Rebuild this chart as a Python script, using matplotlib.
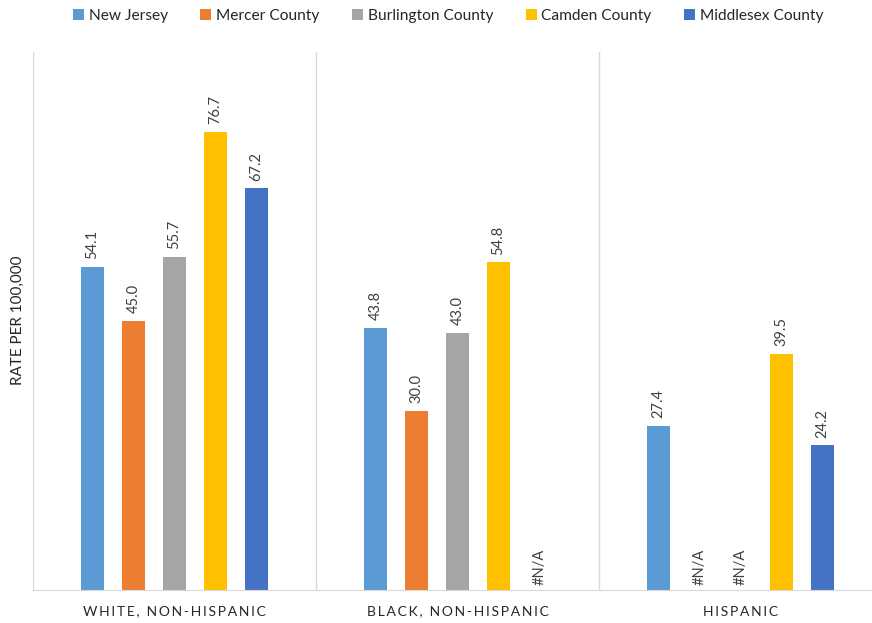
import numpy as np
import matplotlib.pyplot as plt

# Data
categories = ['WHITE, NON-HISPANIC', 'BLACK, NON-HISPANIC', 'HISPANIC']
series = ['New Jersey', 'Mercer County', 'Burlington County', 'Camden County', 'Middlesex County']
new_jersey = [54.1, 43.8, 27.4]
mercer = [45.0, 30.0, None]
burlington = [55.7, 43.0, None]
camden = [76.7, 54.8, 39.5]
middlesex = [67.2, None, 24.2]
values = [new_jersey, mercer, burlington, camden, middlesex]
colors = ['#5B9BD5', '#ED7D31', '#A5A5A5', '#FFC000', '#4472C4']

plt.rcParams['font.family'] = ['Lato', 'DejaVu Sans']

fig = plt.figure(figsize=(8.72, 6.23), dpi=100)
ax = fig.add_axes([33 / 872, 33 / 623, 838 / 872, 538 / 623])

x = np.arange(len(categories))
step = 0.145
width = 0.08
for i, (name, vals, col) in enumerate(zip(series, values, colors)):
    xs = x + (i - 2) * step
    hs = [v if v is not None else 0 for v in vals]
    ax.bar(xs, hs, width, color=col, label=name)
    for xi, v in zip(xs, vals):
        if v is None:
            ax.text(xi, 0.8, '#N/A', rotation=90, ha='center', va='bottom',
                    fontsize=10.5, color='#404040')
        else:
            ax.text(xi, v + 1.3, f'{v:.1f}', rotation=90, ha='center', va='bottom',
                    fontsize=10.5, color='#404040')

ax.set_xlim(-0.5, 2.461)
ax.set_ylim(0, 90)
ax.set_yticks([])
ax.set_xticks([])
for s in ['top', 'right', 'left']:
    ax.spines[s].set_visible(False)
ax.spines['bottom'].set_color('#D9D9D9')
for b in [-0.5, 0.5, 1.5]:
    ax.axvline(b, color='#D9D9D9', lw=1)

# spaced-out category labels
for xi, c in zip(x, categories):
    ax.text(xi, -3.6, '\u2009'.join(c), ha='center', va='center',
            fontsize=10, color='#262626')

fig.text(18 / 872, 1 - 320 / 623, 'RATE PER 100,000', rotation=90,
         ha='center', va='center', fontsize=11, color='#262626')

leg = fig.legend(loc='upper center', bbox_to_anchor=(0.514, 1.008), ncol=5,
                 frameon=False, fontsize=11.2, handlelength=0.7, handleheight=0.7,
                 handletextpad=0.3, columnspacing=2.1)
for t in leg.get_texts():
    t.set_color('#262626')

fig.savefig('out.png', dpi=100)
